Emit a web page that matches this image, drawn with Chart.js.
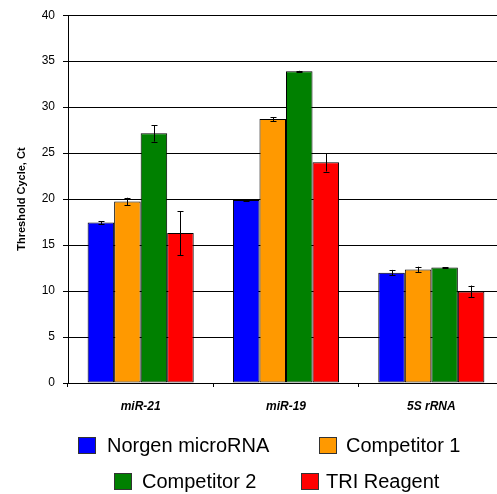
<!DOCTYPE html>
<html lang="en">
<head>
  <meta charset="UTF-8">
  <title>Threshold Cycle</title>
  <script src="https://cdn.jsdelivr.net/npm/chart.js"></script>
  <style>
    html, body { margin: 0; padding: 0; background: #fff; overflow: hidden; }
    body { width: 497px; height: 494px; position: relative; font-family: "Liberation Sans", Arial, sans-serif; }
    #wrap { position: absolute; left: 0; top: 0; width: 504px; height: 494px; }
    .leg { position: absolute; font-size: 20px; color: #000; line-height: 20px; white-space: nowrap; }
    .leg i { position: absolute; left: 0; top: 1px; width: 16px; height: 15px; border: 1px solid #333; }
    .leg span { position: absolute; top: -1px; }
  </style>
</head>
<body>
  <div id="wrap"><canvas id="chart"></canvas></div>
  <div id="legend"></div>
  <script>
    // data
    const categories = ['miR-21', 'miR-19', '5S rRNA'];
    const seriesNames = ['Norgen microRNA', 'Competitor 1', 'Competitor 2', 'TRI Reagent'];
    const norgen = [17.45, 19.9, 12.0];
    const competitor1 = [19.75, 28.7, 12.35];
    const competitor2 = [27.15, 33.9, 12.55];
    const triReagent = [16.3, 24.0, 9.95];
    const norgenErr = [0.15, 0.1, 0.3];
    const competitor1Err = [0.4, 0.2, 0.3];
    const competitor2Err = [0.9, 0.05, 0.05];
    const triReagentErr = [2.4, 1.0, 0.65];
    const yTicks = [0, 5, 10, 15, 20, 25, 30, 35, 40];

    const colors = ['#0000FF', '#FF9900', '#008000', '#FF0000'];
    const values = [norgen, competitor1, competitor2, triReagent];
    const errors = [norgenErr, competitor1Err, competitor2Err, triReagentErr];
    const font = '"Liberation Sans", Arial, sans-serif';

    // error bars, drawn through the y scale
    const errorBars = {
      id: 'errorBars',
      afterDatasetsDraw(chart) {
        const ctx = chart.ctx;
        const y = chart.scales.y;
        ctx.save();
        ctx.strokeStyle = '#000';
        ctx.lineWidth = 1;
        chart.data.datasets.forEach((ds, i) => {
          chart.getDatasetMeta(i).data.forEach((bar, j) => {
            const v = ds.data[j], e = ds.errors[j];
            const top = y.getPixelForValue(v + e);
            const bot = y.getPixelForValue(v - e);
            const x = Math.round(bar.x) + 0.5;
            ctx.beginPath();
            ctx.moveTo(x, top); ctx.lineTo(x, bot);
            ctx.moveTo(x - 3, Math.round(top) + 0.5); ctx.lineTo(x + 3, Math.round(top) + 0.5);
            ctx.moveTo(x - 3, Math.round(bot) + 0.5); ctx.lineTo(x + 3, Math.round(bot) + 0.5);
            ctx.stroke();
          });
        });
        ctx.restore();
      }
    };

    new Chart(document.getElementById('chart'), {
      type: 'bar',
      data: {
        labels: categories,
        datasets: seriesNames.map((name, i) => ({
          label: name,
          data: values[i],
          errors: errors[i],
          backgroundColor: colors[i],
          borderColor: '#000',
          borderWidth: 1,
          borderSkipped: false,
          categoryPercentage: 0.73,
          barPercentage: 1.0
        }))
      },
      options: {
        responsive: true,
        maintainAspectRatio: false,
        animation: false,
        layout: { padding: { top: 13, left: 0, right: 0, bottom: 81 } },
        plugins: { legend: { display: false }, tooltip: { enabled: false } },
        scales: {
          x: {
            afterFit: s => { s.height = 30; },
            grid: { drawOnChartArea: false, drawTicks: true, tickLength: 4, color: '#000' },
            border: { color: '#000', width: 1 },
            ticks: {
              color: '#000', padding: 12.8,
              font: { family: font, size: 12, weight: 'bold', style: 'italic' }
            }
          },
          y: {
            min: 0, max: 40,
            afterFit: s => { s.width = 68; },
            afterBuildTicks: s => { s.ticks = yTicks.map(v => ({ value: v })); },
            grid: { color: '#000', lineWidth: 1, tickLength: 5 },
            border: { color: '#000', width: 1 },
            ticks: { color: '#000', padding: 8, font: { family: font, size: 12 } },
            title: {
              display: true, text: 'Threshold Cycle, Ct', color: '#000',
              padding: { top: 15, bottom: 0 },
              font: { family: font, size: 11, weight: 'bold' }
            }
          }
        }
      },
      plugins: [errorBars]
    });

    // legend, two rows as in the picture
    const legendPos = [[78, 436], [319, 436], [114, 472], [301, 472]];
    const legendTextGap = [29, 27, 28, 25];
    const legend = document.getElementById('legend');
    seriesNames.forEach((name, i) => {
      const d = document.createElement('div');
      d.className = 'leg';
      d.style.left = legendPos[i][0] + 'px';
      d.style.top = legendPos[i][1] + 'px';
      d.innerHTML = '<i style="background:' + colors[i] + '"></i><span style="left:' + legendTextGap[i] + 'px">' + name + '</span>';
      legend.appendChild(d);
    });
  </script>
</body>
</html>
